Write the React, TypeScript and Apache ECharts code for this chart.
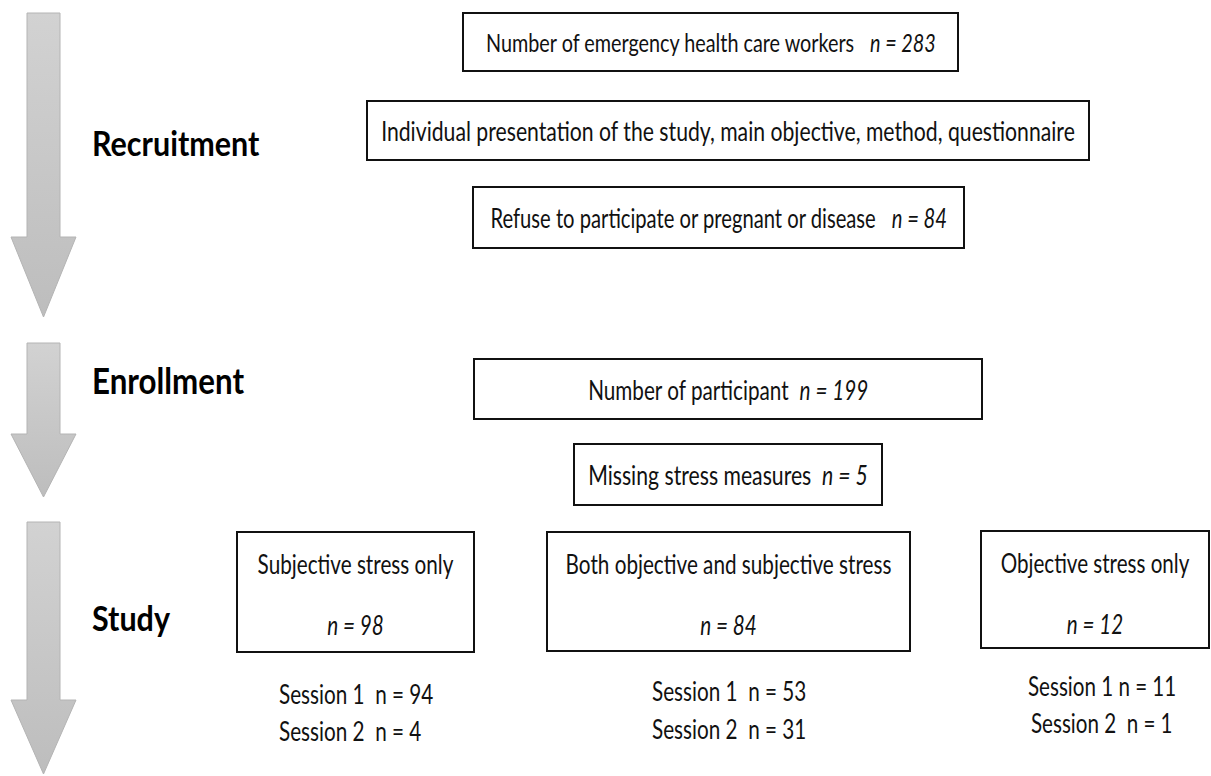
import React, { useEffect, useRef } from "react";
import * as echarts from "echarts";

// Stage labels
const stages = ["Recruitment", "Enrollment", "Study"];
// Top flow boxes: label + count
const flowLabels = [
  "Number of emergency health care workers",
  "Individual presentation of the study, main objective, method, questionnaire",
  "Refuse to participate or pregnant or disease",
  "Number of participant",
  "Missing stress measures",
];
const flowCounts: (number | null)[] = [283, null, 84, 199, 5];
const flowGaps = ["   ", "", "   ", "  ", "  "];
// Study groups
const groupLabels = ["Subjective stress only", "Both objective and subjective stress", "Objective stress only"];
const groupCounts = [98, 84, 12];
const session1Counts = [94, 53, 11];
const session2Counts = [4, 31, 1];
const session1Gap = ["  ", "  ", " "];

const FONT = "Lato, 'Open Sans', sans-serif";
const SY = 1.3; // vertical stretch of the original drawing

// layout (pixels)
const flowBoxes = [
  { x: 463, y: 13, w: 495, h: 58, fs: 19.8 },
  { x: 367, y: 101, w: 722, h: 59, fs: 21.2 },
  { x: 473, y: 187, w: 491, h: 61, fs: 20.2 },
  { x: 474, y: 359, w: 508, h: 60, fs: 20.7 },
  { x: 574, y: 444, w: 308, h: 61, fs: 21.2 },
];
const groupBoxes = [
  { x: 237, y: 532, w: 237, h: 120, fs: 20.7, s1: 693, s2: 730, s1x: 279, s2x: 279 },
  { x: 547, y: 532, w: 363, h: 119, fs: 20.7, s1: 690, s2: 728, s1x: 652, s2x: 652 },
  { x: 981, y: 531, w: 228, h: 117, fs: 20.6, s1: 685, s2: 722, s1x: 1028, s2x: 1031 },
];
const arrows = [
  { top: 13, headTop: 237, tip: 317 },
  { top: 343, headTop: 434, tip: 497 },
  { top: 522, headTop: 700, tip: 774 },
];
const stageY = [143, 380, 618];
const stageFs = [30.5, 31.3, 30.5];

function richFor(fs: number) {
  return {
    r: { fontFamily: FONT, fontSize: fs, fill: "#111" },
    i: { fontFamily: FONT, fontSize: fs, fontStyle: "italic", fill: "#111" },
  };
}

export default function App() {
  const ref = useRef<HTMLDivElement>(null);
  useEffect(() => {
    if (!ref.current) return;
    const chart = echarts.init(ref.current, null, { renderer: "svg" });
    const elements: any[] = [];
    const txt = (x: number, y: number, text: string, fs: number, align = "center") => ({
      type: "text",
      x,
      y,
      scaleY: SY,
      style: { text, rich: richFor(fs), textAlign: align, textVerticalAlign: "middle" },
    });
    arrows.forEach((a) => {
      elements.push({
        type: "polygon",
        shape: {
          points: [
            [27, a.top], [60, a.top], [60, a.headTop], [76, a.headTop],
            [43.5, a.tip], [11, a.headTop], [27, a.headTop],
          ],
        },
        style: {
          fill: new echarts.graphic.LinearGradient(0, 0, 0, 1, [
            { offset: 0, color: "#d2d2d2" },
            { offset: 1, color: "#bdbdbd" },
          ]),
          stroke: "#b4b4b4",
          lineWidth: 1,
        },
      });
    });
    stages.forEach((s, i) => {
      elements.push({
        type: "text",
        x: 92,
        y: stageY[i],
        scaleY: 1.15,
        style: {
          text: s,
          fontFamily: FONT,
          fontWeight: "bold",
          fontSize: stageFs[i],
          fill: "#000",
          textAlign: "left",
          textVerticalAlign: "middle",
        },
      });
    });
    flowBoxes.forEach((b, i) => {
      elements.push({
        type: "rect",
        shape: { x: b.x, y: b.y, width: b.w, height: b.h },
        style: { fill: "#fff", stroke: "#111", lineWidth: 2 },
      });
      const c = flowCounts[i];
      const t = c === null ? `{r|${flowLabels[i]}}` : `{r|${flowLabels[i]}${flowGaps[i]}}{i|n = ${c}}`;
      elements.push(txt(b.x + b.w / 2, b.y + b.h / 2, t, b.fs));
    });
    groupBoxes.forEach((b, i) => {
      elements.push({
        type: "rect",
        shape: { x: b.x, y: b.y, width: b.w, height: b.h },
        style: { fill: "#fff", stroke: "#111", lineWidth: 2 },
      });
      const cx = b.x + b.w / 2;
      elements.push(txt(cx, b.y + 31, `{r|${groupLabels[i]}}`, b.fs));
      elements.push(txt(cx, b.y + 92, `{i|n = ${groupCounts[i]}}`, b.fs));
      const l1 = `Session 1${session1Gap[i]}n = ${session1Counts[i]}`;
      const l2 = `Session 2  n = ${session2Counts[i]}`;
      elements.push(txt(b.s1x, b.s1, `{r|${l1}}`, b.fs, "left"));
      elements.push(txt(b.s2x, b.s2, `{r|${l2}}`, b.fs, "left"));
    });
    chart.setOption({
      animation: false,
      backgroundColor: "#fff",
      graphic: { elements },
    });
    return () => chart.dispose();
  }, []);
  return (
    <div
      ref={ref}
      style={{ position: "fixed", left: 0, top: 0, width: 1211, height: 776, background: "#fff" }}
    />
  );
}
